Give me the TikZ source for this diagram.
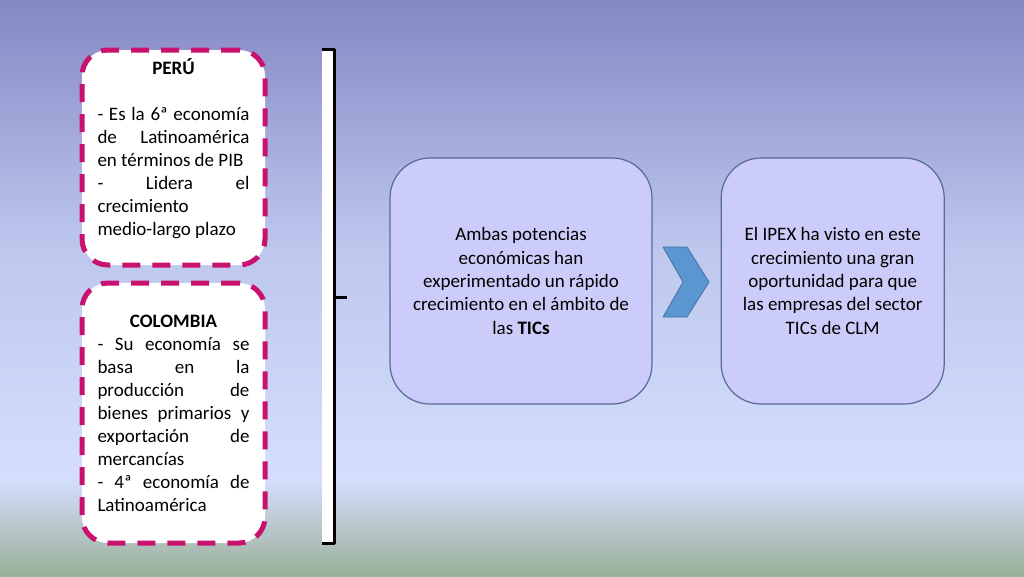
\documentclass[tikz,border=0pt]{standalone}
\usepackage{fontspec}
\setmainfont{Carlito}
\usetikzlibrary{positioning}

\definecolor{bgtop}{RGB}{132,136,196}
\definecolor{bgmid}{RGB}{190,200,238}
\definecolor{bglight}{RGB}{212,222,252}
\definecolor{bgbottom}{RGB}{154,176,152}
\definecolor{dashpink}{RGB}{200,18,110}
\definecolor{lavender}{RGB}{204,204,250}
\definecolor{boxedge}{RGB}{88,106,152}
\definecolor{chevfill}{RGB}{91,150,208}
\definecolor{chevedge}{RGB}{68,114,170}

\tolerance=10000
\hbadness=10000

\begin{document}
\begin{tikzpicture}[x=1pt, y=-1pt, line join=round,
	country/.style={draw=dashpink, line width=5pt, dash pattern=on 18pt off 12pt, fill=white, rounded corners=26pt, minimum width=183pt},
	countrytext/.style={text width=152pt, align=justify, inner sep=0pt, anchor=base, font=\fontsize{19}{23}\selectfont},
	idea/.style={draw=boxedge, line width=1.2pt, fill=lavender, rounded corners=40pt, minimum height=246pt, align=center, font=\fontsize{19}{23.3}\selectfont}]
		\useasboundingbox (0,0) rectangle (1024,576);
		
		% background
		\shade [top color=bgtop, bottom color=bgmid] (0,0) rectangle (1024,251);
		\shade [top color=bgmid, bottom color=bglight] (0,250) rectangle (1024,481);
		\shade [top color=bglight, bottom color=bgbottom] (0,480) rectangle (1024,576);
		
		% Peru
		\node [country, minimum height=215pt] (peru) at (173.5,157.5) {};
		\node [countrytext] (perutxt) at (173.5,74) {\hspace*{\fill}\textbf{PERÚ}\hspace*{\fill}\par\mbox{}\par
			- Es la 6ª economía\linebreak de Latinoamérica\linebreak en términos de PIB\newline - Lidera el\linebreak crecimiento\newline medio-largo plazo};
		% Colombia
		\node [country, minimum height=260pt] (colombia) at (173.5,413) {};
		\node [countrytext] (colombiatxt) at (173.5,327) {\hspace*{\fill}\textbf{COLOMBIA}\hspace*{\fill}\par
			- Su economía se\linebreak basa en la\linebreak producción de\linebreak bienes primarios y\linebreak exportación de\linebreak mercancías\newline - 4ª economía de\linebreak Latinoamérica};
		
		% bracket
		\fill [white] (322,49) rectangle (334,543);
		\draw [line width=3pt] (322,49) -- (334,49) -- (334,543) -- (322,543);
		\draw [line width=3pt] (334,297) -- (347,297);
		
		% TICs and IPEX
		\node [idea, minimum width=262pt] (tics) at (521,281) {Ambas potencias\\ económicas han\\ experimentado un rápido\\ crecimiento en el ámbito de\\ las \textbf{TICs}};
		\node [idea, minimum width=223pt, right=68pt of tics] (ipex) {El IPEX ha visto en este\\ crecimiento una gran\\ oportunidad para que\\ las empresas del sector\\ TICs de CLM};
		
		% chevron between them
		\draw [fill=chevfill, draw=chevedge, line width=0.8pt] (663,247) -- (687,247) -- (709,282) -- (687,317) -- (663,317) -- (683,282) -- cycle;
	\end{tikzpicture}
\end{document}
